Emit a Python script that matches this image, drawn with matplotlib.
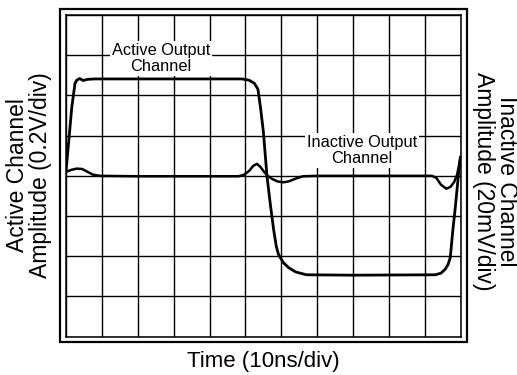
import matplotlib
matplotlib.use("Agg")
import matplotlib.pyplot as plt
from matplotlib.patches import Rectangle

plt.rcParams['font.family'] = ['Liberation Sans', 'DejaVu Sans']

# time in divisions (10ns/div), amplitude in divisions
active_t = [0, 0.08, 0.16, 0.25, 0.3, 0.38, 0.48, 0.6, 0.8, 2, 4, 4.9, 5.1, 5.25,
            5.35, 5.42, 5.5, 5.6, 5.7, 5.79, 5.86, 5.92, 6.05, 6.2, 6.4, 6.7, 8,
            10.29, 10.45, 10.57, 10.65, 10.71, 10.78, 10.85, 10.94, 10.99]
active_v = [0.12, 0.9, 1.7, 2.3, 2.38, 2.42, 2.37, 2.4, 2.41, 2.41, 2.41, 2.41,
            2.38, 2.3, 2.15, 1.7, 1.1, 0.0, -0.75, -1.36, -1.75, -1.95, -2.15,
            -2.28, -2.39, -2.46, -2.47, -2.46, -2.42, -2.32, -2.2, -2.03, -1.36,
            -0.78, 0.05, 0.47]

inactive_t = [0, 0.15, 0.3, 0.45, 0.6, 0.75, 0.95, 2, 4.8, 4.95, 5.1, 5.22, 5.32,
              5.42, 5.52, 5.62, 5.75, 5.9, 6.05, 6.2, 6.4, 6.6, 7, 10.2, 10.32,
              10.45, 10.6, 10.72, 10.82, 10.9, 10.95, 11.0]
inactive_v = [0.1, 0.15, 0.18, 0.17, 0.1, 0.03, 0.0, -0.01, -0.01, 0.02, 0.12,
              0.25, 0.3, 0.22, 0.1, 0.0, -0.08, -0.14, -0.16, -0.14, -0.07, -0.01,
              0.0, 0.0, -0.05, -0.22, -0.32, -0.27, -0.15, 0.03, 0.25, 0.47]

fig = plt.figure(figsize=(5.17, 3.75), dpi=100)
ax = fig.add_axes([0.1277, 0.1021, 0.7634, 0.8579])

ax.set_xlim(0, 11)
ax.set_ylim(-4, 4)
ax.set_xticks(range(12))
ax.set_yticks(range(-4, 5))
ax.tick_params(length=0, labelbottom=False, labelleft=False)
ax.grid(True, color='black', linewidth=1.0)
ax.set_axisbelow(True)
for s in ax.spines.values():
    s.set_linewidth(1.1)

ax.plot(active_t, active_v, color='black', linewidth=2.0, zorder=5,
        solid_joinstyle='round', solid_capstyle='round')
ax.plot(inactive_t, inactive_v, color='black', linewidth=1.8, zorder=5,
        solid_joinstyle='round', solid_capstyle='round')

box = dict(boxstyle='square,pad=0.12', facecolor='white', edgecolor='none')
ax.text(2.65, 2.91, 'Active Output\nChannel', ha='center', va='center',
        fontsize=11.8, linespacing=1.1, bbox=box, zorder=4)
ax.text(8.25, 0.64, 'Inactive Output\nChannel', ha='center', va='center',
        fontsize=11.8, linespacing=1.1, bbox=box, zorder=4)

# outer frame of the screen
fig.patches.append(Rectangle((0.1151, 0.0888), 0.789, 0.8864, transform=fig.transFigure,
                             fill=False, edgecolor='black', linewidth=1.6))

fig.text(0.509, 0.037, 'Time (10ns/div)', ha='center', va='center', fontsize=16)
fig.text(0.057, 0.532, 'Active Channel\nAmplitude (0.2V/div)', ha='center', va='center',
         rotation=90, fontsize=16.5, linespacing=1.0, multialignment='center')
fig.text(0.957, 0.517, 'Inactive Channel\nAmplitude (20mV/div)', ha='center', va='center',
         rotation=-90, fontsize=16.5, linespacing=1.0, multialignment='center')

fig.savefig('out.png', dpi=100)
